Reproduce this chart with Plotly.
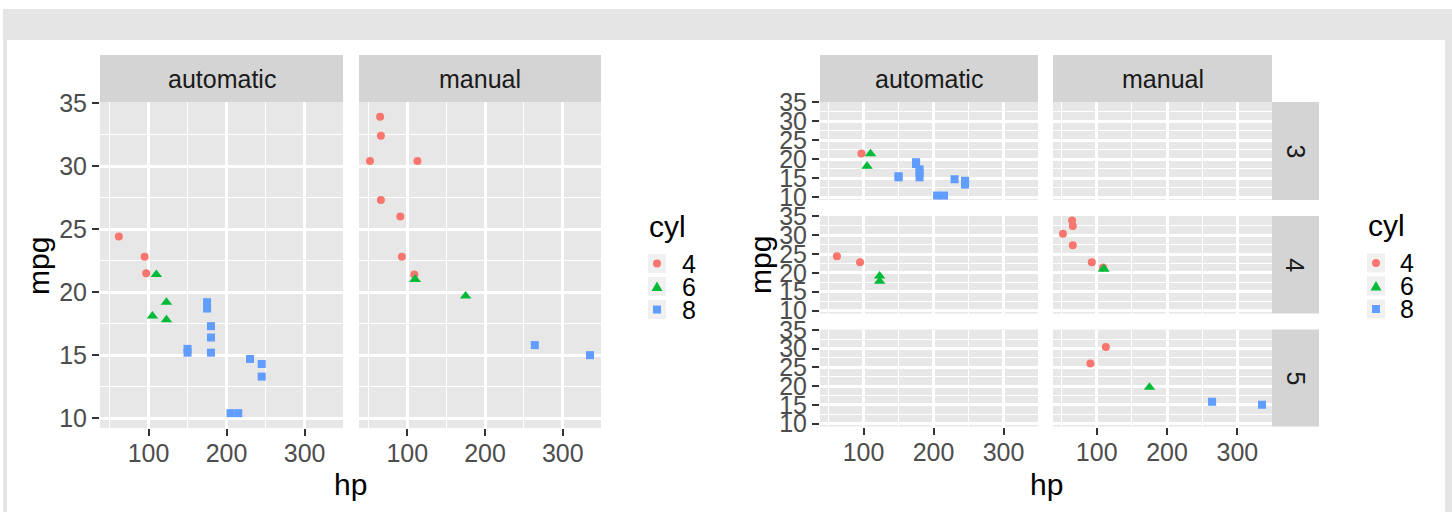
import plotly.graph_objects as go

# ---------------- data (mtcars) ----------------
hp   = [110, 110, 93, 110, 175, 105, 245, 62, 95, 123, 123, 180, 180, 180, 205, 215,
        230, 66, 52, 65, 97, 150, 150, 245, 175, 66, 91, 113, 264, 175, 335, 109]
mpg  = [21.0, 21.0, 22.8, 21.4, 18.7, 18.1, 14.3, 24.4, 22.8, 19.2, 17.8, 16.4, 17.3, 15.2, 10.4, 10.4,
        14.7, 32.4, 30.4, 33.9, 21.5, 15.5, 15.2, 13.3, 19.2, 27.3, 26.0, 30.4, 15.8, 19.7, 15.0, 21.4]
cyl  = [6, 6, 4, 6, 8, 6, 8, 4, 4, 6, 6, 8, 8, 8, 8, 8, 8, 4, 4, 4, 4, 8, 8, 8, 8, 4, 4, 4, 8, 6, 8, 4]
am   = [1, 1, 1, 0, 0, 0, 0, 0, 0, 0, 0, 0, 0, 0, 0, 0, 0, 1, 1, 1, 0, 0, 0, 0, 0, 1, 1, 1, 1, 1, 1, 1]
gear = [4, 4, 4, 3, 3, 3, 3, 4, 4, 4, 4, 3, 3, 3, 3, 3, 3, 4, 4, 4, 3, 3, 3, 3, 3, 4, 5, 5, 5, 5, 5, 4]

am_labels   = ["automatic", "manual"]
gear_levels = [3, 4, 5]
cyl_levels  = [4, 6, 8]
cyl_colors  = {4: "#F8766D", 6: "#00BA38", 8: "#619CFF"}
cyl_symbols = {4: "circle", 6: "triangle-up", 8: "square"}
cyl_sizes   = {4: 8, 6: 10, 8: 8}

x_ticks = [100, 200, 300]
x_minor = [50, 150, 250, 350]
y_ticks = [10, 15, 20, 25, 30, 35]
y_minor = [12.5, 17.5, 22.5, 27.5, 32.5]

# ---------------- layout helpers ----------------
W, H = 1452, 512
FONT = "Liberation Sans"
PANEL_BG = "#E7E7E7"
STRIP_BG = "#D4D4D4"
FRAME = "#E5E5E5"

def X(px):
    return px / W

def Y(py):
    return 1 - py / H

def expand(vals):
    lo, hi = min(vals), max(vals)
    s = hi - lo
    return [lo - 0.05 * s, hi + 0.05 * s]

x_range = expand(hp)
y_range = expand(mpg)

tickfont = dict(family=FONT, size=25, color="#4D4D4D")

def make_x(domain, anchor, labels):
    return dict(domain=[X(domain[0]), X(domain[1])], anchor=anchor, range=x_range,
                tickmode="array", tickvals=x_ticks, ticktext=[str(v) for v in x_ticks],
                showticklabels=labels, ticks="outside" if labels else "",
                ticklen=7, tickwidth=2.4, tickcolor="#333333", ticklabelstandoff=-4,
                showgrid=True, gridcolor="white", gridwidth=2.6,
                minor=dict(tickvals=x_minor, showgrid=True, gridcolor="white", gridwidth=1.3, ticks=""),
                zeroline=False, showline=False, tickfont=tickfont, fixedrange=True,
                automargin=False)

def make_y(domain, anchor, labels):
    return dict(domain=[Y(domain[1]), Y(domain[0])], anchor=anchor, range=y_range,
                tickmode="array", tickvals=y_ticks, ticktext=[str(v) for v in y_ticks],
                showticklabels=labels, ticks="outside" if labels else "",
                ticklen=7, tickwidth=2.4, tickcolor="#333333",
                showgrid=True, gridcolor="white", gridwidth=2.6,
                minor=dict(tickvals=y_minor, showgrid=True, gridcolor="white", gridwidth=1.3, ticks=""),
                zeroline=False, showline=False, tickfont=tickfont, fixedrange=True,
                automargin=False)

# panel geometry in pixels
L_cols = [(100, 343), (359, 601)]
L_rows = (102, 428)
R_cols = [(820, 1038), (1053, 1272)]
R_rows = [(102, 200), (216, 313.5), (329.5, 426.5)]

panels = []
for j, a in enumerate([0, 1]):
    panels.append(dict(xd=L_cols[j], yd=L_rows, am=a, gear=None, xl=True, yl=(j == 0)))
for i, g in enumerate(gear_levels):
    for j, a in enumerate([0, 1]):
        panels.append(dict(xd=R_cols[j], yd=R_rows[i], am=a, gear=g, xl=(i == 2), yl=(j == 0)))

fig = go.Figure()
layout = {}
for k, p in enumerate(panels):
    n = k + 1
    xid = "x" if n == 1 else f"x{n}"
    yid = "y" if n == 1 else f"y{n}"
    layout["xaxis" if n == 1 else f"xaxis{n}"] = make_x(p["xd"], yid, p["xl"])
    layout["yaxis" if n == 1 else f"yaxis{n}"] = make_y(p["yd"], xid, p["yl"])
    # placeholder so that empty facets are still drawn
    fig.add_trace(go.Scatter(x=[None], y=[None], mode="markers", xaxis=xid, yaxis=yid,
                             showlegend=False, hoverinfo="skip"))
    for c in cyl_levels:
        idx = [i for i in range(len(hp))
               if am[i] == p["am"] and cyl[i] == c and (p["gear"] is None or gear[i] == p["gear"])]
        if not idx:
            continue
        fig.add_trace(go.Scatter(
            x=[hp[i] for i in idx], y=[mpg[i] for i in idx], mode="markers",
            xaxis=xid, yaxis=yid, showlegend=False, hoverinfo="skip",
            marker=dict(symbol=cyl_symbols[c], color=cyl_colors[c], size=cyl_sizes[c],
                        line=dict(width=0))))

shapes = []
annotations = []

# outer frame
for (x0, y0, x1, y1) in [(3, 9, 1452, 40), (3, 9, 7, 512), (1445, 9, 1452, 512)]:
    shapes.append(dict(type="rect", xref="paper", yref="paper", x0=X(x0), x1=X(x1),
                       y0=Y(y1), y1=Y(y0), fillcolor=FRAME, line=dict(width=0), layer="below"))

stripfont = dict(family=FONT, size=25, color="#1A1A1A")

def strip(x0, y0, x1, y1, text, angle=0):
    shapes.append(dict(type="rect", xref="paper", yref="paper", x0=X(x0), x1=X(x1),
                       y0=Y(y1), y1=Y(y0), fillcolor=STRIP_BG, line=dict(width=0)))
    annotations.append(dict(xref="paper", yref="paper", x=X((x0 + x1) / 2), y=Y((y0 + y1) / 2),
                            text=text, showarrow=False, font=stripfont, textangle=angle,
                            xanchor="center", yanchor="middle"))

for j in range(2):
    strip(L_cols[j][0], 55, L_cols[j][1], 102, am_labels[j])
    strip(R_cols[j][0], 55, R_cols[j][1], 102, am_labels[j])
for i, g in enumerate(gear_levels):
    strip(1272, R_rows[i][0], 1319, R_rows[i][1], str(g), angle=90)

titlefont = dict(family=FONT, size=30, color="black")
def title(x, y, text, angle=0):
    annotations.append(dict(xref="paper", yref="paper", x=X(x), y=Y(y), text=text, showarrow=False,
                            font=titlefont, textangle=angle, xanchor="center", yanchor="middle"))

title(38, 266, "mpg", -90)
title(350.5, 484, "hp")
title(760, 265, "mpg", -90)
title(1046, 484, "hp")

# legends
def legend(x_key, x_lab, y_title, centers):
    annotations.append(dict(xref="paper", yref="paper", x=X(x_key - 1), y=Y(y_title), text="cyl",
                            showarrow=False, font=titlefont, xanchor="left", yanchor="middle"))
    for c, cy in zip(cyl_levels, centers):
        shapes.append(dict(type="rect", xref="paper", yref="paper", x0=X(x_key), x1=X(x_key + 18),
                           y0=Y(cy + 9.5), y1=Y(cy - 9.5), fillcolor="#F0F0F0", line=dict(width=0)))
        cx = x_key + 9
        col = cyl_colors[c]
        if cyl_symbols[c] == "circle":
            shapes.append(dict(type="circle", xref="paper", yref="paper", x0=X(cx - 4), x1=X(cx + 4),
                               y0=Y(cy + 4), y1=Y(cy - 4), fillcolor=col, line=dict(width=0)))
        elif cyl_symbols[c] == "square":
            shapes.append(dict(type="rect", xref="paper", yref="paper", x0=X(cx - 4), x1=X(cx + 4),
                               y0=Y(cy + 4), y1=Y(cy - 4), fillcolor=col, line=dict(width=0)))
        else:
            path = (f"M {X(cx - 5.5)},{Y(cy + 4.5)} L {X(cx + 5.5)},{Y(cy + 4.5)} "
                    f"L {X(cx)},{Y(cy - 5)} Z")
            shapes.append(dict(type="path", xref="paper", yref="paper", path=path,
                               fillcolor=col, line=dict(width=0)))
        annotations.append(dict(xref="paper", yref="paper", x=X(x_lab), y=Y(cy), text=str(c),
                                showarrow=False, font=dict(family=FONT, size=25, color="black"),
                                xanchor="left", yanchor="middle"))

legend(648, 680, 226, [263.5, 286.5, 309.5])
legend(1367, 1398, 225, [263, 286, 309])

fig.update_layout(**layout)
fig.update_layout(width=W, height=H, margin=dict(l=0, r=0, t=0, b=0, pad=0, autoexpand=False),
                  paper_bgcolor="white", plot_bgcolor=PANEL_BG,
                  shapes=shapes, annotations=annotations, showlegend=False)

fig.write_html("out.html", config=dict(displayModeBar=False))
